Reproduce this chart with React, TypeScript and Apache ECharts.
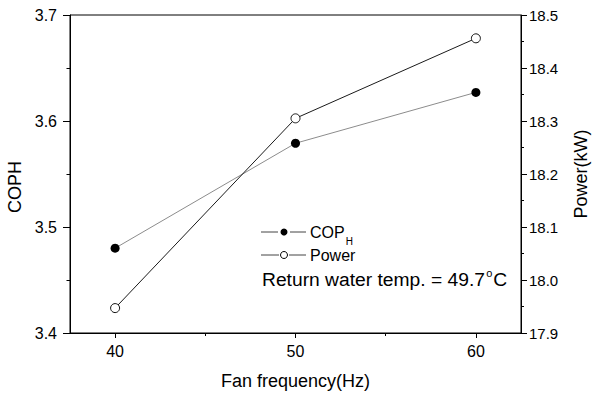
import React, { useEffect, useRef } from 'react';
import * as echarts from 'echarts';

const freq = [40, 50, 60];
const coph = [3.48, 3.579, 3.627];
const power = [17.947, 18.305, 18.456];
const xMajorTicks = [40, 50, 60];
const xMinorTicks = [45, 55];
const leftRange = [3.4, 3.7];
const rightRange = [17.9, 18.5];

const FONT = "'Liberation Sans', Arial, sans-serif";

export default function App() {
  const ref = useRef<HTMLDivElement>(null);
  useEffect(() => {
    const chart = echarts.init(ref.current!, null, { renderer: 'svg' });
    const ctx = document.createElement('canvas').getContext('2d')!;
    const measure = (t: string, size: number) => {
      ctx.font = `${size}px ${FONT}`;
      return ctx.measureText(t).width;
    };
    const retText = 'Return water temp. = 49.7';
    const retSize = 18;
    const retScale = 1.07;
    const retX = 262;
    const retW = measure(retText, retSize) * retScale;
    const copW = measure('COP', 16);

    const axisText = { color: '#000', fontFamily: FONT };

    chart.setOption({
      animation: false,
      backgroundColor: '#fff',
      grid: {
        left: 70, right: 71, top: 15, bottom: 63, show: true, borderColor: '#000', borderWidth: 1,
        backgroundColor: 'transparent', outerBoundsMode: 'none', containLabel: false,
      },
      xAxis: [
        {
          type: 'value', min: 37.5, max: 62.5, position: 'bottom',
          name: 'Fan frequency(Hz)', nameLocation: 'middle', nameGap: 39,
          nameTextStyle: { ...axisText, fontSize: 18 },
          axisLine: { show: true, lineStyle: { color: '#000', width: 1 } },
          axisTick: { show: true, customValues: xMajorTicks, length: 5, lineStyle: { color: '#000' } },
          axisLabel: { customValues: xMajorTicks, ...axisText, fontSize: 16, margin: 10 },
          splitLine: { show: false },
        },
        {
          type: 'value', min: 37.5, max: 62.5, position: 'bottom',
          axisLine: { show: false },
          axisTick: { show: true, customValues: xMinorTicks, length: 3, lineStyle: { color: '#000' } },
          axisLabel: { show: false },
          splitLine: { show: false },
        },
      ],
      yAxis: [
        {
          type: 'value', min: leftRange[0], max: leftRange[1], interval: 0.1, position: 'left',
          name: 'COPH', nameLocation: 'middle', nameGap: 43, nameRotate: 90,
          nameTextStyle: { ...axisText, fontSize: 18, padding: [0, 26, 0, 0] },
          axisLine: { show: true, lineStyle: { color: '#000', width: 1 } },
          axisTick: { show: true, length: 7, lineStyle: { color: '#000' } },
          minorTick: { show: true, splitNumber: 2, length: 3.5, lineStyle: { color: '#000' } },
          axisLabel: { ...axisText, fontSize: 16, margin: 13, formatter: (v: number) => v.toFixed(1) },
          splitLine: { show: false },
        },
        {
          type: 'value', min: rightRange[0], max: rightRange[1], interval: 0.1, position: 'right',
          name: 'Power(kW)', nameLocation: 'middle', nameGap: 51, nameRotate: 90,
          nameTextStyle: { ...axisText, fontSize: 18 },
          axisLine: { show: true, lineStyle: { color: '#000', width: 1 } },
          axisTick: { show: true, length: 6, lineStyle: { color: '#000' } },
          minorTick: { show: true, splitNumber: 2, length: 3, lineStyle: { color: '#000' } },
          axisLabel: { ...axisText, fontSize: 15, margin: 8, formatter: (v: number) => v.toFixed(1) },
          splitLine: { show: false },
        },
      ],
      series: [
        {
          type: 'line', name: 'COPH', xAxisIndex: 0, yAxisIndex: 0,
          data: freq.map((f, i) => [f, coph[i]]),
          symbol: 'circle', symbolSize: 9,
          itemStyle: { color: '#000' },
          lineStyle: { color: '#8c8c8c', width: 1 },
          z: 3,
        },
        {
          type: 'line', name: 'Power', xAxisIndex: 0, yAxisIndex: 1,
          data: freq.map((f, i) => [f, power[i]]),
          symbol: 'circle', symbolSize: 9,
          itemStyle: { color: '#fff', borderColor: '#111', borderWidth: 1 },
          lineStyle: { color: '#1a1a1a', width: 1 },
          z: 3,
        },
      ],
      graphic: [
        { type: 'line', shape: { x1: 261, y1: 232, x2: 278, y2: 232 }, style: { stroke: '#444', lineWidth: 1 } },
        { type: 'circle', shape: { cx: 284, cy: 232, r: 3.5 }, style: { fill: '#000' } },
        { type: 'line', shape: { x1: 290, y1: 232, x2: 306, y2: 232 }, style: { stroke: '#444', lineWidth: 1 } },
        { type: 'text', x: 310, y: 232, style: { text: 'COP', fontSize: 16, fontFamily: FONT, fill: '#000', verticalAlign: 'middle', align: 'left' } },
        { type: 'text', x: 310 + copW + 1, y: 241, style: { text: 'H', fontSize: 10, fontFamily: FONT, fill: '#000', verticalAlign: 'middle', align: 'left' } },
        { type: 'line', shape: { x1: 261, y1: 255, x2: 279, y2: 255 }, style: { stroke: '#444', lineWidth: 1 } },
        { type: 'circle', shape: { cx: 284, cy: 255, r: 3.5 }, style: { fill: '#fff', stroke: '#000', lineWidth: 1 } },
        { type: 'line', shape: { x1: 289, y1: 255, x2: 306, y2: 255 }, style: { stroke: '#444', lineWidth: 1 } },
        { type: 'text', x: 310, y: 255, style: { text: 'Power', fontSize: 16, fontFamily: FONT, fill: '#000', verticalAlign: 'middle', align: 'left' } },
        { type: 'text', x: retX, y: 280, scaleX: retScale, style: { text: retText, fontSize: retSize, fontFamily: FONT, fill: '#000', verticalAlign: 'middle', align: 'left' } },
        { type: 'text', x: retX + retW + 1, y: 273, style: { text: 'o', fontSize: 11, fontFamily: FONT, fill: '#000', verticalAlign: 'middle', align: 'left' } },
        { type: 'text', x: retX + retW + 8, y: 280, scaleX: retScale, style: { text: 'C', fontSize: retSize, fontFamily: FONT, fill: '#000', verticalAlign: 'middle', align: 'left' } },
      ],
    });
    return () => chart.dispose();
  }, []);
  return <div ref={ref} style={{ position: 'fixed', left: 0, top: 0, width: 592, height: 396 }} />;
}
